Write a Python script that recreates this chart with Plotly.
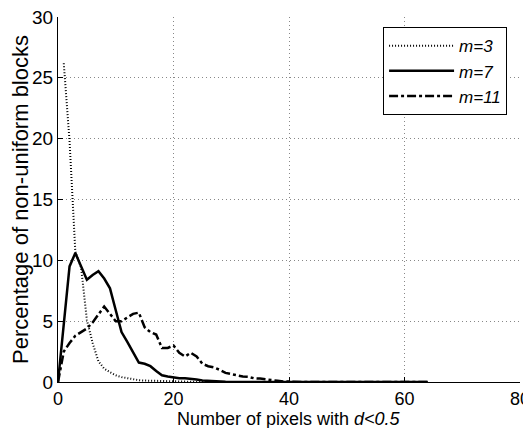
import plotly.graph_objects as go

# number of pixels with d<0.5 (x axis)
pixels = list(range(0, 65))

# percentage of non-uniform blocks
m3 = [None, 26.2, 19.8, 10.7, 9.4, 5.1, 3.2, 1.7, 1.1, 0.8,
      0.55, 0.4, 0.3, 0.2, 0.15, 0.12, 0.1, 0.08, 0.06, 0.05,
      0.04, 0.03, 0.02, 0.02, 0.01, 0.01, 0, 0, 0, 0,
      0, 0, 0, 0, 0, 0, 0, 0, 0, 0,
      0, 0, 0, 0, 0, 0, 0, 0, 0, 0,
      0, 0, 0, 0, 0, 0, 0, 0, 0, 0,
      0, 0, 0, 0, 0]
m7 = [0, 4.8, 9.5, 10.6, 9.5, 8.4, 8.8, 9.1, 8.5, 7.7,
      5.9, 4.1, 3.3, 2.5, 1.6, 1.5, 1.3, 0.9, 0.55, 0.45,
      0.35, 0.3, 0.3, 0.28, 0.2, 0.12, 0.08, 0.05, 0.03, 0.02,
      0.01, 0, 0, 0, 0, 0, 0, 0, 0, 0,
      0, 0, 0, 0, 0, 0, 0, 0, 0, 0,
      0, 0, 0, 0, 0, 0, 0, 0, 0, 0,
      0, 0, 0, 0, 0]
m11 = [0, 2.5, 3.2, 3.8, 4.1, 4.4, 4.9, 5.6, 6.2, 5.6,
       5.0, 5.0, 5.3, 5.6, 5.7, 4.5, 4.1, 3.9, 2.8, 2.8,
       3.0, 2.4, 2.1, 2.4, 2.1, 1.5, 1.3, 1.2, 1.0, 0.75,
       0.65, 0.55, 0.45, 0.42, 0.3, 0.28, 0.2, 0.15, 0.1, 0.05,
       0.02, 0, 0, 0, 0, 0, 0, 0, 0, 0,
       0, 0, 0, 0, 0, 0, 0, 0, 0, 0,
       0, 0, 0, 0, 0]

x_ticks = [0, 20, 40, 60, 80]
y_ticks = [0, 5, 10, 15, 20, 25, 30]

FONT = "Liberation Sans, Arial, sans-serif"

fig = go.Figure()
fig.add_trace(go.Scatter(x=pixels, y=m3, mode="lines", name="m=3",
                         line=dict(color="black", width=2, dash="1px,2px")))
fig.add_trace(go.Scatter(x=pixels, y=m7, mode="lines", name="m=7",
                         line=dict(color="black", width=2.5)))
fig.add_trace(go.Scatter(x=pixels, y=m11, mode="lines", name="m=11",
                         line=dict(color="black", width=2.5, dash="dashdot")))

# page body has an 8px margin, so the figure is 8px smaller than the window
fig.update_layout(
    width=523, height=420,
    margin=dict(l=50, r=11, t=9, b=46),
    paper_bgcolor="white", plot_bgcolor="white",
    font=dict(family=FONT, size=18, color="black"),
    legend=dict(x=0.972, y=0.972, xanchor="right", yanchor="top",
                bgcolor="white", bordercolor="black", borderwidth=1,
                itemwidth=65, tracegroupgap=0,
                font=dict(size=17, style="italic")),
)
# x title as annotation so it sits right under the tick labels
fig.add_annotation(text="Number of pixels with <i>d<0.5</i>", xref="paper", yref="paper",
                   x=0.5, y=-0.101, xanchor="center", yanchor="middle",
                   showarrow=False, font=dict(family=FONT, size=18))
fig.update_xaxes(
    range=[0, 80], tickvals=x_ticks, showline=True, linecolor="black", linewidth=1,
    ticks="inside", ticklen=5, tickcolor="black", tickfont=dict(size=18),
    ticklabeloverflow="allow",
    showgrid=True, gridcolor="#888", gridwidth=1, griddash="1px,3px", zeroline=False,
    automargin=False,
)
fig.update_yaxes(
    range=[0, 30], tickvals=y_ticks, showline=True, linecolor="black", linewidth=1,
    ticks="inside", ticklen=5, tickcolor="black", tickfont=dict(size=19),
    ticklabeloverflow="allow",
    showgrid=True, gridcolor="#888", gridwidth=1, griddash="1px,3px", zeroline=False,
    automargin=False,
    title=dict(text="Percentage of non-uniform blocks", standoff=0),
)

fig.write_html("out.html")
